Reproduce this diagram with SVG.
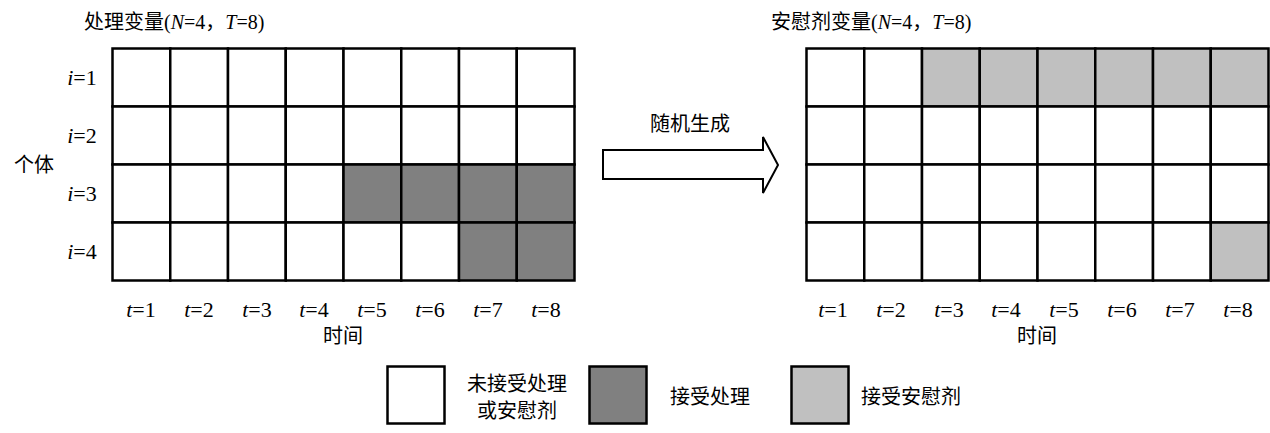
<svg xmlns="http://www.w3.org/2000/svg" width="1270" height="433" viewBox="0 0 1270 433">
<style>
text{font-family:"Liberation Serif","Noto Sans CJK SC",serif;font-size:20px;fill:#000}
.m{text-anchor:middle}
.n{font-size:22px}
.c{fill:#fff;stroke:#000;stroke-width:2.5}
.d{fill:#808080}
.l{fill:#c0c0c0}
</style>
<rect width="1270" height="433" fill="#fff"/>
<g id="left-grid">
<text x="84" y="29">处理变量(<tspan font-style="italic">N</tspan>=4，<tspan font-style="italic">T</tspan>=8)</text>
<rect class="c" x="112.5" y="48.5" width="57.75" height="58"/><rect class="c" x="170.25" y="48.5" width="57.75" height="58"/><rect class="c" x="228" y="48.5" width="57.75" height="58"/><rect class="c" x="285.75" y="48.5" width="57.75" height="58"/><rect class="c" x="343.5" y="48.5" width="57.75" height="58"/><rect class="c" x="401.25" y="48.5" width="57.75" height="58"/><rect class="c" x="459" y="48.5" width="57.75" height="58"/><rect class="c" x="516.75" y="48.5" width="57.75" height="58"/>
<rect class="c" x="112.5" y="106.5" width="57.75" height="58"/><rect class="c" x="170.25" y="106.5" width="57.75" height="58"/><rect class="c" x="228" y="106.5" width="57.75" height="58"/><rect class="c" x="285.75" y="106.5" width="57.75" height="58"/><rect class="c" x="343.5" y="106.5" width="57.75" height="58"/><rect class="c" x="401.25" y="106.5" width="57.75" height="58"/><rect class="c" x="459" y="106.5" width="57.75" height="58"/><rect class="c" x="516.75" y="106.5" width="57.75" height="58"/>
<rect class="c" x="112.5" y="164.5" width="57.75" height="58"/><rect class="c" x="170.25" y="164.5" width="57.75" height="58"/><rect class="c" x="228" y="164.5" width="57.75" height="58"/><rect class="c" x="285.75" y="164.5" width="57.75" height="58"/><rect class="c d" x="343.5" y="164.5" width="57.75" height="58"/><rect class="c d" x="401.25" y="164.5" width="57.75" height="58"/><rect class="c d" x="459" y="164.5" width="57.75" height="58"/><rect class="c d" x="516.75" y="164.5" width="57.75" height="58"/>
<rect class="c" x="112.5" y="222.5" width="57.75" height="58"/><rect class="c" x="170.25" y="222.5" width="57.75" height="58"/><rect class="c" x="228" y="222.5" width="57.75" height="58"/><rect class="c" x="285.75" y="222.5" width="57.75" height="58"/><rect class="c" x="343.5" y="222.5" width="57.75" height="58"/><rect class="c" x="401.25" y="222.5" width="57.75" height="58"/><rect class="c d" x="459" y="222.5" width="57.75" height="58"/><rect class="c d" x="516.75" y="222.5" width="57.75" height="58"/>
<text x="14" y="172">个体</text>
<text class="m n" x="82" y="85"><tspan font-style="italic">i</tspan>=1</text>
<text class="m n" x="82" y="143"><tspan font-style="italic">i</tspan>=2</text>
<text class="m n" x="82" y="201"><tspan font-style="italic">i</tspan>=3</text>
<text class="m n" x="82" y="259"><tspan font-style="italic">i</tspan>=4</text>
<text class="m n" x="141" y="317"><tspan font-style="italic">t</tspan>=1</text><text class="m n" x="199" y="317"><tspan font-style="italic">t</tspan>=2</text><text class="m n" x="257" y="317"><tspan font-style="italic">t</tspan>=3</text><text class="m n" x="314" y="317"><tspan font-style="italic">t</tspan>=4</text><text class="m n" x="372" y="317"><tspan font-style="italic">t</tspan>=5</text><text class="m n" x="430" y="317"><tspan font-style="italic">t</tspan>=6</text><text class="m n" x="488" y="317"><tspan font-style="italic">t</tspan>=7</text><text class="m n" x="546" y="317"><tspan font-style="italic">t</tspan>=8</text>
<text class="m" x="343" y="343">时间</text>
</g>
<g id="connectors">
<polygon points="603,150 763,150 763,137 778,165 763,193 763,179 603,179" fill="#fff" stroke="#000" stroke-width="2"/>
<text class="m" x="690" y="131">随机生成</text>
</g>
<g id="right-grid">
<text x="771" y="29">安慰剂变量(<tspan font-style="italic">N</tspan>=4，<tspan font-style="italic">T</tspan>=8)</text>
<rect class="c" x="806.5" y="48.5" width="57.75" height="58"/><rect class="c" x="864.25" y="48.5" width="57.75" height="58"/><rect class="c l" x="922" y="48.5" width="57.75" height="58"/><rect class="c l" x="979.75" y="48.5" width="57.75" height="58"/><rect class="c l" x="1037.5" y="48.5" width="57.75" height="58"/><rect class="c l" x="1095.25" y="48.5" width="57.75" height="58"/><rect class="c l" x="1153" y="48.5" width="57.75" height="58"/><rect class="c l" x="1210.75" y="48.5" width="57.75" height="58"/>
<rect class="c" x="806.5" y="106.5" width="57.75" height="58"/><rect class="c" x="864.25" y="106.5" width="57.75" height="58"/><rect class="c" x="922" y="106.5" width="57.75" height="58"/><rect class="c" x="979.75" y="106.5" width="57.75" height="58"/><rect class="c" x="1037.5" y="106.5" width="57.75" height="58"/><rect class="c" x="1095.25" y="106.5" width="57.75" height="58"/><rect class="c" x="1153" y="106.5" width="57.75" height="58"/><rect class="c" x="1210.75" y="106.5" width="57.75" height="58"/>
<rect class="c" x="806.5" y="164.5" width="57.75" height="58"/><rect class="c" x="864.25" y="164.5" width="57.75" height="58"/><rect class="c" x="922" y="164.5" width="57.75" height="58"/><rect class="c" x="979.75" y="164.5" width="57.75" height="58"/><rect class="c" x="1037.5" y="164.5" width="57.75" height="58"/><rect class="c" x="1095.25" y="164.5" width="57.75" height="58"/><rect class="c" x="1153" y="164.5" width="57.75" height="58"/><rect class="c" x="1210.75" y="164.5" width="57.75" height="58"/>
<rect class="c" x="806.5" y="222.5" width="57.75" height="58"/><rect class="c" x="864.25" y="222.5" width="57.75" height="58"/><rect class="c" x="922" y="222.5" width="57.75" height="58"/><rect class="c" x="979.75" y="222.5" width="57.75" height="58"/><rect class="c" x="1037.5" y="222.5" width="57.75" height="58"/><rect class="c" x="1095.25" y="222.5" width="57.75" height="58"/><rect class="c" x="1153" y="222.5" width="57.75" height="58"/><rect class="c l" x="1210.75" y="222.5" width="57.75" height="58"/>
<text class="m n" x="833" y="317"><tspan font-style="italic">t</tspan>=1</text><text class="m n" x="891" y="317"><tspan font-style="italic">t</tspan>=2</text><text class="m n" x="949" y="317"><tspan font-style="italic">t</tspan>=3</text><text class="m n" x="1006" y="317"><tspan font-style="italic">t</tspan>=4</text><text class="m n" x="1064" y="317"><tspan font-style="italic">t</tspan>=5</text><text class="m n" x="1122" y="317"><tspan font-style="italic">t</tspan>=6</text><text class="m n" x="1180" y="317"><tspan font-style="italic">t</tspan>=7</text><text class="m n" x="1238" y="317"><tspan font-style="italic">t</tspan>=8</text>
<text class="m" x="1037" y="343">时间</text>
</g>
<g id="legend">
<rect class="c" x="387.5" y="366.5" width="57" height="57"/>
<text class="m" x="517" y="391">未接受处理</text>
<text class="m" x="517" y="418">或安慰剂</text>
<rect class="c d" x="589.5" y="366.5" width="57" height="57"/>
<text x="670" y="404">接受处理</text>
<rect class="c l" x="791.5" y="366.5" width="57" height="57"/>
<text x="861" y="404">接受安慰剂</text>
</g>
</svg>
